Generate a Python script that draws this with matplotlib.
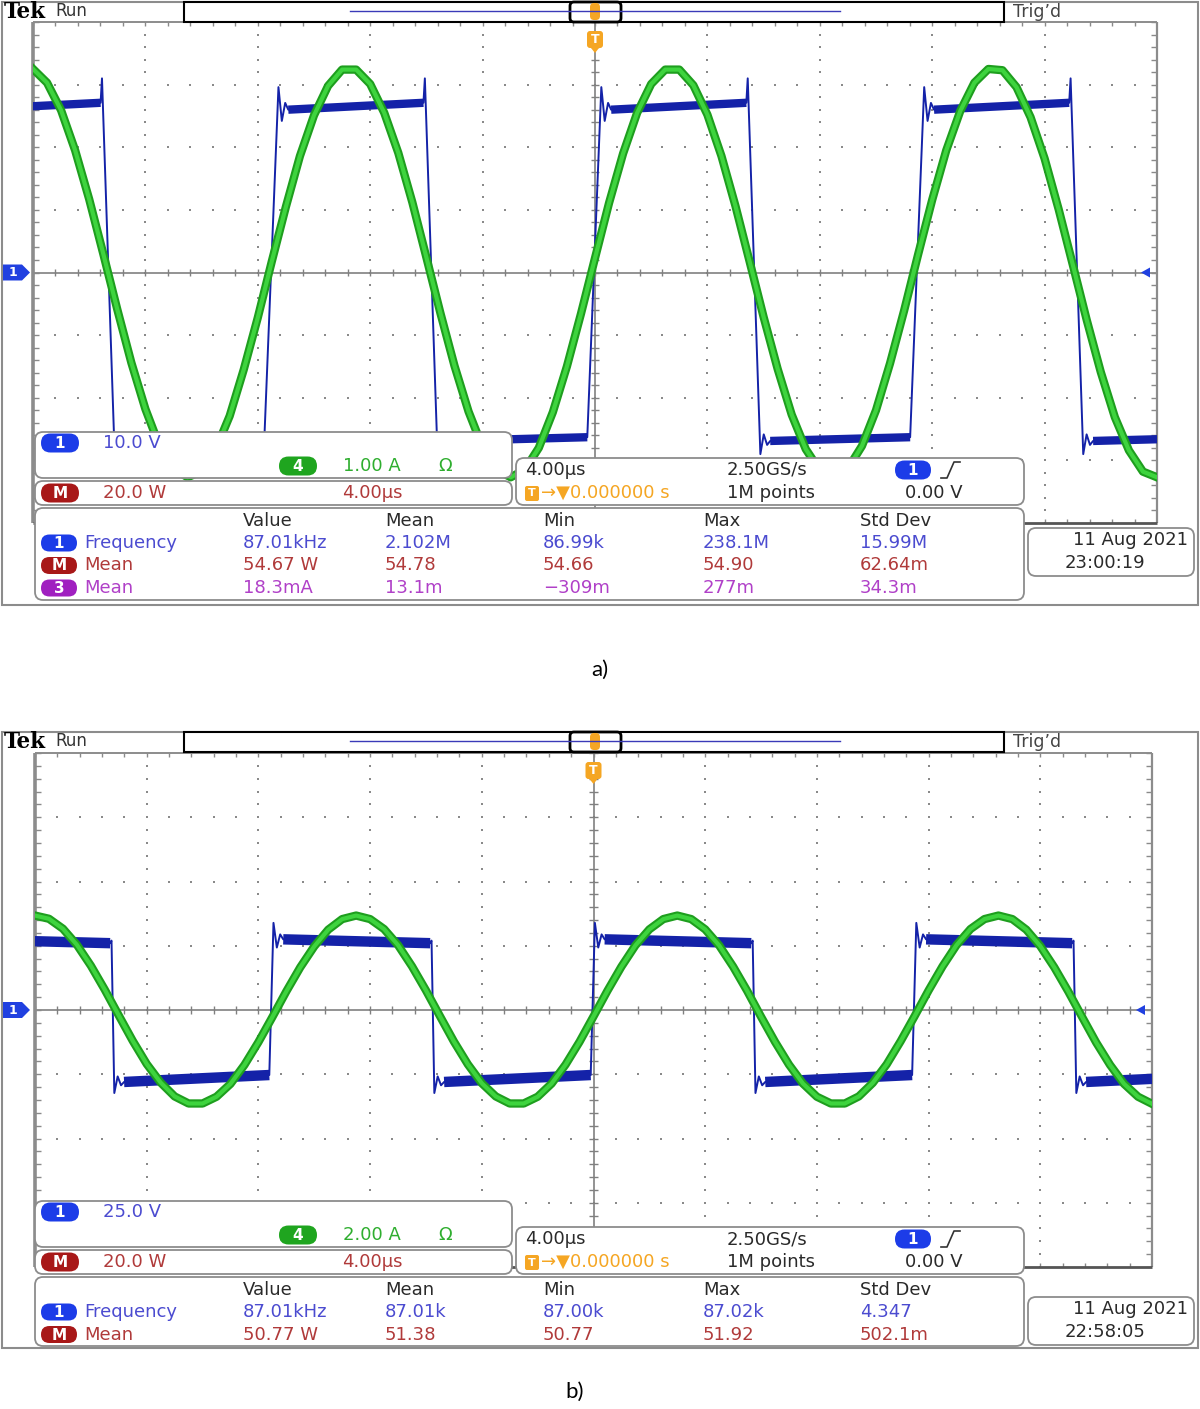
"""Two Tektronix scope captures (a: 10 V/div, b: 25 V/div) redrawn with matplotlib."""

import numpy as np
import matplotlib
matplotlib.use("Agg")
import matplotlib.pyplot as plt
from matplotlib.patches import FancyBboxPatch, Rectangle, Polygon

W, H = 1200, 1409

# ---- values --------------------------------------------------------------
TIME_US = [i / 2 for i in range(-40, 41)]   # sample times of the current trace, us

# channel 4 current (A), one reading every 0.5 us
I4_A = [3.25, 3.03, 2.59, 1.95, 1.17, 0.30, -0.59, -1.44, -2.18, -2.77,
        -3.13, -3.27, -3.17, -2.83, -2.29, -1.55, -0.72, 0.18, 1.05, 1.86,
        2.51, 2.98, 3.24, 3.24, 3.01, 2.55, 1.91, 1.12, 0.24, -0.65,
        -1.49, -2.22, -2.79, -3.15, -3.27, -3.15, -2.80, -2.23, -1.50, -0.66,
        0.23, 1.11, 1.90, 2.55, 3.01, 3.24, 3.24, 2.99, 2.52, 1.86,
        1.06, 0.18, -0.71, -1.54, -2.27, -2.82, -3.16, -3.27, -3.13, -2.77,
        -2.20, -1.45, -0.61, 0.29, 1.16, 1.95, 2.58, 3.03, 3.25, 3.23,
        2.96, 2.48, 1.82, 1.01, 0.13, -0.76, -1.59, -2.31, -2.84, -3.18, -3.27]
I4_B = [2.94, 2.84, 2.53, 2.03, 1.38, 0.63, -0.17, -0.96, -1.68, -2.26,
        -2.69, -2.91, -2.91, -2.70, -2.30, -1.71, -1.00, -0.22, 0.58, 1.33,
        1.98, 2.50, 2.83, 2.94, 2.83, 2.52, 2.02, 1.36, 0.61, -0.19,
        -0.98, -1.69, -2.28, -2.69, -2.91, -2.91, -2.70, -2.29, -1.70, -0.99,
        -0.20, 0.60, 1.35, 2.01, 2.51, 2.83, 2.94, 2.83, 2.51, 2.01,
        1.35, 0.60, -0.21, -0.99, -1.70, -2.29, -2.70, -2.91, -2.91, -2.69,
        -2.27, -1.69, -0.97, -0.19, 0.61, 1.36, 2.02, 2.52, 2.83, 2.94,
        2.83, 2.50, 1.99, 1.33, 0.58, -0.22, -1.01, -1.71, -2.30, -2.70, -2.92]

# channel 1 square voltage: edge centres (us), plateau levels (V)
V1_A_RISE = [-11.49, 0.0, 11.49]
V1_A_FALL = [-17.32, -5.83, 5.66, 17.15]
V1_A_HIGH = (26.0, 27.1)                # just after rise, just before fall
V1_A_LOW = (-26.9, -26.3)               # just after fall, just before rise
V1_A_SPIKES = (29.6, 31.0, -29.0)       # overshoot, pre-fall spike, undershoot

V1_B_RISE = [-11.51, 0.0, 11.51]
V1_B_FALL = [-17.21, -5.75, 5.75, 17.24]
V1_B_HIGH = (27.5, 26.0)
V1_B_LOW = (-28.0, -25.3)
V1_B_SPIKES = (33.9, 27.0, -32.3)

SCALE_A = ["10.0 V", "1.00 A", "20.0 W", "4.00µs"]
SCALE_B = ["25.0 V", "2.00 A", "20.0 W", "4.00µs"]
V_DIV = {"a": 10.0, "b": 25.0}
A_DIV = {"a": 1.0, "b": 2.0}

TIMEBASE = ["4.00µs", "2.50GS/s", "0.000000 s", "1M points", "0.00 V"]
MEAS_HEAD = ["Value", "Mean", "Min", "Max", "Std Dev"]
MEAS_A = [("1", "Frequency", ["87.01kHz", "2.102M", "86.99k", "238.1M", "15.99M"]),
          ("M", "Mean", ["54.67 W", "54.78", "54.66", "54.90", "62.64m"]),
          ("3", "Mean", ["18.3mA", "13.1m", "\u2212309m", "277m", "34.3m"])]
MEAS_B = [("1", "Frequency", ["87.01kHz", "87.01k", "87.00k", "87.02k", "4.347"]),
          ("M", "Mean", ["50.77 W", "51.38", "50.77", "51.92", "502.1m"])]
DATE_A = ["11 Aug 2021", "23:00:19"]
DATE_B = ["11 Aug 2021", "22:58:05"]

# ---- colours ---------------------------------------------------------------
PILL = {"1": "#1c3ce8", "M": "#a81818", "4": "#1fa51f", "3": "#a020c0"}
TXT = {"1": "#4b4bd0", "M": "#b03a3a", "4": "#2fae2f", "3": "#b040c8"}
ORANGE = "#f5a623"
GRID = "#8a8a8a"
BLUE = "#1422a8"
GREEN_DARK, GREEN = "#1e9e1e", "#3ed43e"
FS = 13


def square_trace(rise, fall, high, low, spikes, edge):
    """Polyline of the switched voltage plus its noisy plateaus."""
    period = np.mean(np.diff(rise))
    t_hi = np.mean([f - r for r in rise for f in fall if 0 < f - r < period])
    ev = sorted([(t, "r") for t in rise] + [(t, "f") for t in fall])
    t, k = ev[0]
    ev.insert(0, (t - t_hi, "r") if k == "f" else (t - (period - t_hi), "f"))
    t, k = ev[-1]
    ev.append((t + period - t_hi, "r") if k == "f" else (t + t_hi, "f"))
    h = edge / 2
    line, flats = [], []
    for (t0, k0), (t1, k1) in zip(ev[:-1], ev[1:]):
        a, b = high if k0 == "r" else low
        pk = spikes[0] if k0 == "r" else spikes[2]
        settle = t0 + h + 0.35
        # overshoot followed by one damped ring
        line += [(t0 + h, pk), (t0 + h + 0.12, a - 0.5 * (pk - a)),
                 (t0 + h + 0.24, a + 0.3 * (pk - a)), (settle, a),
                 (t1 - h - 0.05, b)]
        if k1 == "f":
            line.append((t1 - h, spikes[1]))
        flats.append(((settle, t1 - h - 0.05), (a, b)))
    return np.array(line), flats


def rbox(ax, x0, y0, x1, y1, r=8, ec="#8c8c8c", lw=1.3, fc="white"):
    ax.add_patch(FancyBboxPatch((x0, y0), x1 - x0, y1 - y0,
                                boxstyle=f"round,pad=0,rounding_size={r}",
                                fc=fc, ec=ec, lw=lw))


def pill(ax, cx, cy, label, w=38, h=19):
    rbox(ax, cx - w / 2, cy - h / 2, cx + w / 2, cy + h / 2, r=h / 2,
         ec="none", fc=PILL[label])
    ax.text(cx, cy + 0.5, label, color="white", ha="center", va="center",
            fontsize=11, fontweight="bold")


def txt(ax, x, y, s, color="#2a2a2a", size=FS, ha="left"):
    ax.text(x, y, s, color=color, fontsize=size, ha=ha, va="center")


def graticule(ax):
    ax.set_xlim(-20, 20)
    ax.set_ylim(-4, 4)
    ax.axis("off")
    mx = np.linspace(-20, 20, 51)
    my = np.linspace(-4, 4, 41)
    for x in [-16, -12, -8, -4, 4, 8, 12, 16]:
        ax.scatter(np.full_like(my, x), my, s=2.2, marker="s", color=GRID, lw=0)
    for y in [-3, -2, -1, 1, 2, 3]:
        ax.scatter(mx, np.full_like(mx, y), s=2.2, marker="s", color=GRID, lw=0)
    ax.axhline(0, color="#808080", lw=1.2)
    ax.axvline(0, color="#808080", lw=1.2)
    ax.vlines(mx, -0.06, 0.06, color="#808080", lw=1)
    ax.hlines(my, -0.15, 0.15, color="#808080", lw=1)
    ax.vlines(mx, 3.93, 4, color=GRID, lw=1)
    ax.vlines(mx, -4, -3.93, color=GRID, lw=1)
    ax.hlines(my, -20, -19.8, color=GRID, lw=1)
    ax.hlines(my, 19.8, 20, color=GRID, lw=1)
    kw = dict(clip_on=False, solid_capstyle="butt")
    ax.plot([-20, -20], [-4, 4], color="#8c8c8c", lw=2.6, **kw)
    ax.plot([-20, 20], [4, 4], color="#8c8c8c", lw=1.4, **kw)
    ax.plot([20, 20], [-4, 4], color="#8c8c8c", lw=1.6, **kw)
    ax.plot([-20, 20], [-4, -4], color="#555555", lw=2.0, **kw)


def draw_panel(fig, ov, key, top, bot, grat, frame_bottom, scale, meas, date,
               rise, fall, high, low, spikes, edge, current, flat_lw):
    x0, y0, x1, y1 = grat
    ax = fig.add_axes([x0 / W, 1 - y1 / H, (x1 - x0) / W, (y1 - y0) / H], zorder=1)
    graticule(ax)

    # traces
    line, flats = square_trace(rise, fall, high, low, spikes, edge)
    ax.plot(line[:, 0], line[:, 1] / V_DIV[key], color=BLUE, lw=1.4, zorder=3)
    for (ta, tb), (va, vb) in flats:
        ax.plot([ta, tb], [va / V_DIV[key], vb / V_DIV[key]], color=BLUE,
                lw=flat_lw, solid_capstyle="butt", zorder=3)
    cur = np.array(current) / A_DIV[key]
    ax.plot(TIME_US, cur, color=GREEN_DARK, lw=6, zorder=4, solid_joinstyle="round")
    ax.plot(TIME_US, cur, color=GREEN, lw=3, zorder=5, solid_joinstyle="round")

    # outer screen frame
    ov.add_patch(Rectangle((2, top + 2), 1196, frame_bottom - top - 2,
                           fill=False, ec="#8c8c8c", lw=1.5))
    # top status bar
    ov.text(4, top + 12, "Tek", fontsize=15.5, fontweight="bold",
            family="DejaVu Serif", va="center", color="black")
    txt(ov, 55, top + 11, "Run", "#333333", 12)
    ov.add_patch(Rectangle((184, top + 2), 820, 20, fc="white", ec="black", lw=1.5))
    ov.plot([350, 840], [top + 11, top + 11], color="#3a3ab8", lw=1)
    rbox(ov, 570, top + 2, 621, top + 22, r=4, ec="black", lw=2)
    rbox(ov, 590, top + 3, 600, top + 20, r=4, ec="none", fc=ORANGE)
    txt(ov, 1013, top + 12, "Trig\u2019d", "#444444", 12.5)
    cx = (x0 + x1) / 2
    rbox(ov, cx - 8, y0 + 9, cx + 8, y0 + 26, r=3, ec="none", fc=ORANGE)
    ov.text(cx, y0 + 17.5, "T", color="white", fontsize=9, fontweight="bold",
            ha="center", va="center")
    ov.add_patch(Polygon([(cx - 4, y0 + 26), (cx + 4, y0 + 26), (cx, y0 + 31)],
                         fc=ORANGE, ec="none"))

    # channel 1 ground marker and trigger level arrow
    yc = (y0 + y1) / 2
    ov.add_patch(Polygon([(3, yc - 8), (22, yc - 8), (30, yc), (22, yc + 8), (3, yc + 8)],
                         fc="#2040e0", ec="none"))
    ov.text(13, yc + 0.5, "1", color="white", fontsize=9, fontweight="bold",
            ha="center", va="center")
    ov.add_patch(Polygon([(x1 - 16, yc), (x1 - 7, yc - 5), (x1 - 7, yc + 5)],
                         fc="#2040e0", ec="none"))

    # vertical scale readouts
    b = bot
    rbox(ov, 35, b + 432, 512, b + 478)
    pill(ov, 60, b + 443, "1")
    txt(ov, 103, b + 443, scale[0], TXT["1"])
    pill(ov, 298, b + 466, "4")
    txt(ov, 343, b + 466, scale[1], TXT["4"])
    txt(ov, 438, b + 466, "\u03a9", TXT["4"])
    rbox(ov, 35, b + 481, 512, b + 505)
    pill(ov, 60, b + 493, "M")
    txt(ov, 103, b + 493, scale[2], TXT["M"])
    txt(ov, 342, b + 493, scale[3], TXT["M"])

    # timebase / trigger readout
    rbox(ov, 516, b + 458, 1024, b + 505)
    txt(ov, 525, b + 470, TIMEBASE[0])
    txt(ov, 727, b + 470, TIMEBASE[1])
    pill(ov, 913, b + 470, "1", w=36)
    ov.plot([941, 947, 954, 960], [b + 478, b + 478, b + 462, b + 462],
            color="#333333", lw=1.2)
    rbox(ov, 525, b + 486, 539, b + 501, r=2, ec="none", fc=ORANGE)
    ov.text(532, b + 493.5, "T", color="white", fontsize=8, fontweight="bold",
            ha="center", va="center")
    txt(ov, 541, b + 493, "\u2192\u25bc" + TIMEBASE[2], ORANGE)
    txt(ov, 727, b + 493, TIMEBASE[3])
    txt(ov, 905, b + 493, TIMEBASE[4])

    # measurement table
    cols = [243, 385, 543, 703, 860]
    rbox(ov, 35, b + 508, 1024, b + 532 + 23 * len(meas) - 1)
    for x, s in zip(cols, MEAS_HEAD):
        txt(ov, x, b + 521, s)
    for i, (ch, name, vals) in enumerate(meas):
        y = b + 543 + 22.5 * i
        pill(ov, 59, y, ch, w=36, h=17)
        txt(ov, 84, y, name, TXT[ch])
        for x, s in zip(cols, vals):
            txt(ov, x, y, s, TXT[ch])

    # date box
    rbox(ov, 1028, b + 528, 1194, b + 576)
    txt(ov, 1188, b + 540, date[0], ha="right")
    txt(ov, 1065, b + 563, date[1])


fig = plt.figure(figsize=(W / 100, H / 100), dpi=100)
ov = fig.add_axes([0, 0, 1, 1], zorder=3)
ov.set_xlim(0, W)
ov.set_ylim(H, 0)
ov.axis("off")
ov.patch.set_alpha(0)

draw_panel(fig, ov, "a", top=0, bot=0, grat=(33, 22, 1157, 523), frame_bottom=605,
           scale=SCALE_A, meas=MEAS_A, date=DATE_A,
           rise=V1_A_RISE, fall=V1_A_FALL, high=V1_A_HIGH, low=V1_A_LOW,
           spikes=V1_A_SPIKES, edge=0.45, current=I4_A, flat_lw=6)
draw_panel(fig, ov, "b", top=730, bot=769, grat=(35, 753, 1152, 1267), frame_bottom=1348,
           scale=SCALE_B, meas=MEAS_B, date=DATE_B,
           rise=V1_B_RISE, fall=V1_B_FALL, high=V1_B_HIGH, low=V1_B_LOW,
           spikes=V1_B_SPIKES, edge=0.1, current=I4_B, flat_lw=7.5)

ov.text(600, 670, "a)", fontsize=16, family="Lato", ha="center", va="center", color="black")
ov.text(575, 1392, "b)", fontsize=16, family="Lato", ha="center", va="center", color="black")

fig.savefig("out.png", dpi=100)
